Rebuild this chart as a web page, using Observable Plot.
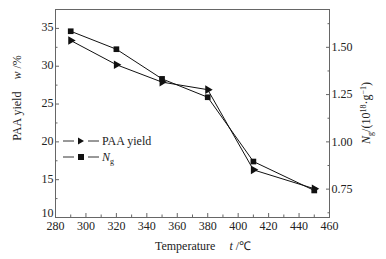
<!DOCTYPE html>
<html>
<head>
<meta charset="utf-8">
<script src="https://cdn.jsdelivr.net/npm/d3@7"></script>
<script src="https://cdn.jsdelivr.net/npm/@observablehq/plot@0.6"></script>
<style>
  html, body { margin: 0; padding: 0; background: #fff; }
  #chart { position: relative; width: 386px; height: 259px; }
</style>
</head>
<body>
<div id="chart"></div>
<script>
// ---- data ----
const temperatures = [290, 320, 350, 380, 410, 450];
const paaYield = [33.4, 30.2, 27.9, 26.9, 16.3, 13.8];
const ngValues = [1.585, 1.49, 1.333, 1.236, 0.896, 0.743];

const xTicks = [280, 300, 320, 340, 360, 380, 400, 420, 440, 460];
const xMinorTicks = [290, 310, 330, 350, 370, 390, 410, 430, 450];
const leftTicks = [10, 15, 20, 25, 30, 35];
const leftMinorTicks = [12.5, 17.5, 22.5, 27.5, 32.5];
const rightTicks = [0.75, 1.00, 1.25, 1.50];
const rightMinorTicks = [0.625, 0.875, 1.125, 1.375, 1.625];

const leftDomain = [10, 37.5];
const rightDomain = [0.6, 1.7];
// map right-axis values onto the left scale
const toLeft = v => leftDomain[0] + (v - rightDomain[0]) * (leftDomain[1] - leftDomain[0]) / (rightDomain[1] - rightDomain[0]);
const fromLeft = v => rightDomain[0] + (v - leftDomain[0]) * (rightDomain[1] - rightDomain[0]) / (leftDomain[1] - leftDomain[0]);

const paaData = temperatures.map((t, i) => ({t, v: paaYield[i]}));
const ngData = temperatures.map((t, i) => ({t, v: toLeft(ngValues[i])}));

const axisColor = "#666";
const textColor = "#222";

const plot = Plot.plot({
  width: 386,
  height: 259,
  marginLeft: 55,
  marginRight: 57,
  marginTop: 9,
  marginBottom: 42,
  style: {fontFamily: "'Liberation Serif', 'Times New Roman', serif", fontSize: "12px", background: "#fff", color: textColor},
  x: {domain: [280, 460]},
  y: {domain: leftDomain},
  marks: [
    Plot.frame({stroke: axisColor}),
    // x axis
    Plot.axisX({ticks: xTicks, tickSize: -4, tickFormat: () => "", label: null, stroke: axisColor}),
    Plot.axisX({ticks: xMinorTicks, tickSize: -2.5, tickFormat: () => "", label: null, stroke: axisColor}),
    Plot.axisX({ticks: xTicks, tickSize: 0, tickPadding: 4, label: null, fill: textColor}),
    // left axis
    Plot.axisY({ticks: leftTicks, tickSize: -4, tickFormat: () => "", label: null, stroke: axisColor}),
    Plot.axisY({ticks: leftMinorTicks, tickSize: -2.5, tickFormat: () => "", label: null, stroke: axisColor}),
    Plot.axisY({ticks: leftTicks.slice(1), tickSize: 0, tickPadding: 2, dy: -1, label: null, fill: textColor}),
    Plot.axisY({ticks: leftTicks.slice(0, 1), tickSize: 0, tickPadding: 2, dy: -4, label: null, fill: textColor}),
    // right axis
    Plot.axisY({anchor: "right", ticks: rightTicks.map(toLeft), tickSize: -4, tickFormat: () => "", label: null, stroke: axisColor}),
    Plot.axisY({anchor: "right", ticks: rightMinorTicks.map(toLeft), tickSize: -2.5, tickFormat: () => "", label: null, stroke: axisColor}),
    Plot.axisY({anchor: "right", ticks: rightTicks.map(toLeft), tickSize: 0, tickPadding: 2, tickFormat: d => fromLeft(d).toFixed(2), label: null, fill: textColor}),
    // series
    Plot.line(paaData, {x: "t", y: "v", stroke: "#111", strokeWidth: 1}),
    Plot.dot(paaData, {x: "t", y: "v", symbol: "triangle", rotate: 90, r: 3.2, fill: "#111", stroke: "none"}),
    Plot.line(ngData, {x: "t", y: "v", stroke: "#111", strokeWidth: 1}),
    Plot.dot(ngData, {x: "t", y: "v", symbol: "square", r: 3.2, fill: "#111", stroke: "none"})
  ]
});

document.getElementById("chart").appendChild(plot);

// ---- rich-text axis titles and legend ----
const svg = d3.select(plot);
const font = "'Liberation Serif', 'Times New Roman', serif";

// left title
const lt = svg.append("text")
  .attr("transform", "translate(21,98) rotate(-90)")
  .attr("text-anchor", "middle").attr("font-family", font).attr("font-size", 12).attr("fill", textColor);
lt.append("tspan").text("PAA yield");
lt.append("tspan").attr("dx", 12).attr("font-style", "italic").text("w");
lt.append("tspan").text(" /%");

// bottom title
const bt = svg.append("text")
  .attr("x", 203).attr("y", 250)
  .attr("text-anchor", "middle").attr("font-family", font).attr("font-size", 12).attr("fill", textColor);
bt.append("tspan").text("Temperature");
bt.append("tspan").attr("dx", 14).attr("font-style", "italic").text("t");
bt.append("tspan").text(" /\u2103");

// right title
const rt = svg.append("text")
  .attr("transform", "translate(370,113) rotate(-90)")
  .attr("text-anchor", "middle").attr("font-family", font).attr("font-size", 12).attr("fill", textColor);
rt.append("tspan").attr("font-style", "italic").text("N");
rt.append("tspan").attr("font-size", 8).attr("dy", 3).text("g");
rt.append("tspan").attr("dy", -3).text("/(10");
rt.append("tspan").attr("font-size", 8).attr("dy", -4).text("18");
rt.append("tspan").attr("dy", 4).text("\u00b7g");
rt.append("tspan").attr("font-size", 8).attr("dy", -4).text("\u22121");
rt.append("tspan").attr("dy", 4).text(")");

// legend
const lg = svg.append("g").attr("font-family", font).attr("font-size", 12).attr("fill", textColor).attr("text-anchor", "start");
const legendItems = [
  {y: 141, symbol: "triangle"},
  {y: 157, symbol: "square"}
];
legendItems.forEach(item => {
  lg.append("line").attr("x1", 63).attr("x2", 74).attr("y1", item.y).attr("y2", item.y).attr("stroke", "#333");
  lg.append("line").attr("x1", 88).attr("x2", 99).attr("y1", item.y).attr("y2", item.y).attr("stroke", "#333");
  if (item.symbol === "triangle") {
    lg.append("path").attr("d", `M${78},${item.y - 3.5}L${84},${item.y}L${78},${item.y + 3.5}Z`).attr("fill", "#111");
  } else {
    lg.append("rect").attr("x", 78).attr("y", item.y - 3).attr("width", 6).attr("height", 6).attr("fill", "#111");
  }
});
lg.append("text").attr("x", 102).attr("y", 145).attr("text-anchor", "start").text("PAA yield");
const ngl = lg.append("text").attr("x", 102).attr("y", 161).attr("text-anchor", "start");
ngl.append("tspan").attr("font-style", "italic").text("N");
ngl.append("tspan").attr("font-size", 8).attr("dy", 3).text("g");
</script>
</body>
</html>
